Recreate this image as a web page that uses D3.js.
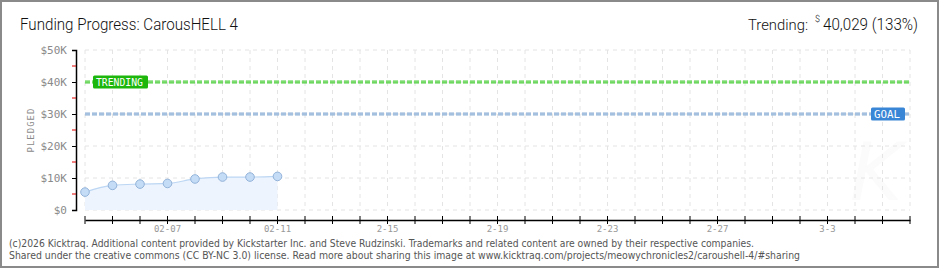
<!DOCTYPE html>
<html>
<head>
<meta charset="utf-8">
<script src="https://cdn.jsdelivr.net/npm/d3@7"></script>
<style>
  body { margin: 0; background: #fff; }
  svg { display: block; }
</style>
</head>
<body>
<svg width="940" height="270"></svg>
<script>
// funding data
var days = ["2026-02-04", "2026-02-05", "2026-02-06", "2026-02-07", "2026-02-08", "2026-02-09", "2026-02-10", "2026-02-11"];
var pledged = [5600, 7700, 8100, 8300, 9700, 10300, 10300, 10500];
var goal = 30000;
var trending = 40029;
var yTicks = [0, 10000, 20000, 30000, 40000, 50000];
var xLabelDays = ["2026-02-07", "2026-02-11", "2026-02-15", "2026-02-19", "2026-02-23", "2026-02-27", "2026-03-03"];
var xLabelText = ["02-07", "02-11", "2-15", "2-19", "2-23", "2-27", "3-3"];

var parse = d3.timeParse("%Y-%m-%d");
var data = days.map(function(d, i) { return {date: parse(d), value: pledged[i]}; });

var svg = d3.select("svg");

var x = d3.scaleTime()
    .domain([parse("2026-02-04"), parse("2026-03-06")])
    .range([85, 910]);
var y = d3.scaleLinear()
    .domain([0, 50000])
    .range([210, 50]);

// outer frame
svg.append("rect")
    .attr("x", 1).attr("y", 1)
    .attr("width", 937).attr("height", 266)
    .attr("fill", "#fff")
    .attr("stroke", "#8a8a8a")
    .attr("stroke-width", 2);

// faint watermark
svg.append("text")
    .attr("x", 850).attr("y", 200)
    .attr("font-family", "DejaVu Sans")
    .attr("font-style", "italic")
    .attr("font-size", 80)
    .attr("fill", "#fbfbfb")
    .text("K");

// grid
var allDays = d3.timeDay.range(x.domain()[0], d3.timeDay.offset(x.domain()[1], 1));
svg.append("g")
  .selectAll("line")
  .data(allDays)
  .enter().append("line")
    .attr("x1", function(d) { return x(d); })
    .attr("x2", function(d) { return x(d); })
    .attr("y1", y(50000))
    .attr("y2", y(0))
    .attr("stroke", "#e4e4e4")
    .attr("stroke-dasharray", "4,4");

svg.append("g")
  .selectAll("line")
  .data(yTicks)
  .enter().append("line")
    .attr("x1", x.range()[0])
    .attr("x2", x.range()[1])
    .attr("y1", function(d) { return y(d); })
    .attr("y2", function(d) { return y(d); })
    .attr("stroke", "#e4e4e4")
    .attr("stroke-dasharray", "4,4");

// area + line + points
var area = d3.area()
    .x(function(d) { return x(d.date); })
    .y0(y(0))
    .y1(function(d) { return y(d.value); })
    .curve(d3.curveMonotoneX);
svg.append("path")
    .datum(data)
    .attr("d", area)
    .attr("fill", "#edf4fd");

var line = d3.line()
    .x(function(d) { return x(d.date); })
    .y(function(d) { return y(d.value); })
    .curve(d3.curveMonotoneX);
svg.append("path")
    .datum(data)
    .attr("d", line)
    .attr("fill", "none")
    .attr("stroke", "#bcd6f3")
    .attr("stroke-width", 1.2);

// goal & trending lines
function refLine(v, color, edge) {
  svg.append("line")
      .attr("x1", x.range()[0]).attr("x2", x.range()[1])
      .attr("y1", y(v)).attr("y2", y(v))
      .attr("stroke", edge)
      .attr("stroke-width", 3)
      .attr("stroke-dasharray", "5,2");
  svg.append("line")
      .attr("x1", x.range()[0]).attr("x2", x.range()[1])
      .attr("y1", y(v)).attr("y2", y(v))
      .attr("stroke", color)
      .attr("stroke-width", 1)
      .attr("stroke-dasharray", "5,2");
}
refLine(goal, "#b9cfe8", "#8fb0d6");
refLine(trending, "#9be88f", "#4fcb3f");

svg.selectAll("circle.pt")
    .data(data)
    .enter().append("circle")
    .attr("class", "pt")
    .attr("cx", function(d) { return x(d.date); })
    .attr("cy", function(d) { return y(d.value); })
    .attr("r", 4.3)
    .attr("fill", "#c4dcf6")
    .attr("stroke", "#93b3d9")
    .attr("stroke-width", 1);

// labels on the ref lines
function tag(px, py, w, color, label) {
  svg.append("rect")
      .attr("x", px).attr("y", py - 6.5)
      .attr("width", w).attr("height", 13)
      .attr("rx", 1.5)
      .attr("fill", color);
  svg.append("text")
      .attr("x", px + 3).attr("y", py + 4)
      .attr("font-family", "DejaVu Sans Mono")
      .attr("font-size", 10)
      .attr("textLength", w - 8)
      .attr("lengthAdjust", "spacingAndGlyphs")
      .attr("fill", "#fff")
      .text(label);
}
tag(93, y(trending), 55, "#1cb60c", "TRENDING");
tag(871, y(goal), 34, "#3a86d6", "GOAL");

// y axis
var yAxis = d3.axisLeft(y)
    .tickValues(yTicks)
    .tickSize(4)
    .tickPadding(5)
    .tickFormat(function(d) { return d === 0 ? "$0" : "$" + d / 1000 + "K"; });
var gy = svg.append("g")
    .attr("transform", "translate(76,0)")
    .call(yAxis);
gy.select(".domain").attr("stroke", "#000").attr("stroke-width", 1.5);
gy.selectAll(".tick line").attr("stroke", "#000");
gy.selectAll("text")
    .attr("font-family", "DejaVu Sans Mono")
    .attr("font-size", 11)
    .attr("fill", "#8a8a8a");

// red half ticks
svg.append("g")
  .selectAll("line")
  .data(d3.range(5000, 50000, 10000))
  .enter().append("line")
    .attr("x1", 72).attr("x2", 76)
    .attr("y1", function(d) { return y(d); })
    .attr("y2", function(d) { return y(d); })
    .attr("stroke", "#e00000");

svg.append("text")
    .attr("transform", "translate(34,130) rotate(-90)")
    .attr("text-anchor", "middle")
    .attr("font-family", "DejaVu Sans Mono")
    .attr("font-size", 9)
    .attr("letter-spacing", 1)
    .attr("fill", "#8a8a8a")
    .text("PLEDGED");

// x axis
var xAxis = d3.axisBottom(x)
    .tickValues(allDays)
    .tickSize(0)
    .tickFormat("");
var gx = svg.append("g")
    .attr("transform", "translate(0,220)")
    .call(xAxis);
gx.select(".domain").attr("stroke", "#000").attr("stroke-width", 1.5);
svg.append("g")
  .selectAll("line")
  .data(allDays)
  .enter().append("line")
    .attr("x1", function(d) { return x(d); })
    .attr("x2", function(d) { return x(d); })
    .attr("y1", 216).attr("y2", 224)
    .attr("stroke", "#000");

svg.append("g")
  .selectAll("text")
  .data(xLabelDays)
  .enter().append("text")
    .attr("x", function(d) { return x(parse(d)); })
    .attr("y", 232)
    .attr("text-anchor", "middle")
    .attr("font-family", "DejaVu Sans Mono")
    .attr("font-size", 9)
    .attr("fill", "#999")
    .text(function(d, i) { return xLabelText[i]; });

// header
svg.append("text")
    .attr("x", 20).attr("y", 30)
    .attr("font-family", "Roboto")
    .attr("font-weight", 300)
    .attr("font-size", 17)
    .attr("textLength", 218)
    .attr("lengthAdjust", "spacingAndGlyphs")
    .attr("fill", "#111")
    .text("Funding Progress: CarousHELL 4");

var hdr = svg.append("text")
    .attr("x", 748).attr("y", 30)
    .attr("font-family", "Roboto")
    .attr("font-weight", 300)
    .attr("font-size", 16)
    .attr("fill", "#111");
hdr.append("tspan")
    .attr("font-size", 15)
    .attr("textLength", 60)
    .attr("lengthAdjust", "spacingAndGlyphs")
    .text("Trending:");
hdr.append("tspan")
    .attr("x", 815).attr("dy", -8)
    .attr("font-size", 9)
    .text("$");
hdr.append("tspan")
    .attr("x", 823).attr("dy", 8)
    .attr("textLength", 95)
    .attr("lengthAdjust", "spacingAndGlyphs")
    .text(d3.format(",")(trending) + " (" + Math.round(trending / goal * 100) + "%)");

// footer
svg.append("text")
    .attr("x", 9).attr("y", 247)
    .attr("font-family", "DejaVu Sans")
    .attr("font-size", 10)
    .attr("textLength", 745)
    .attr("lengthAdjust", "spacingAndGlyphs")
    .attr("fill", "#555")
    .text("(c)2026 Kicktraq. Additional content provided by Kickstarter Inc. and Steve Rudzinski. Trademarks and related content are owned by their respective companies.");
svg.append("text")
    .attr("x", 9).attr("y", 259)
    .attr("font-family", "DejaVu Sans")
    .attr("font-size", 10)
    .attr("textLength", 791)
    .attr("lengthAdjust", "spacingAndGlyphs")
    .attr("fill", "#555")
    .text("Shared under the creative commons (CC BY-NC 3.0) license. Read more about sharing this image at www.kicktraq.com/projects/meowychronicles2/caroushell-4/#sharing");
</script>
</body>
</html>
